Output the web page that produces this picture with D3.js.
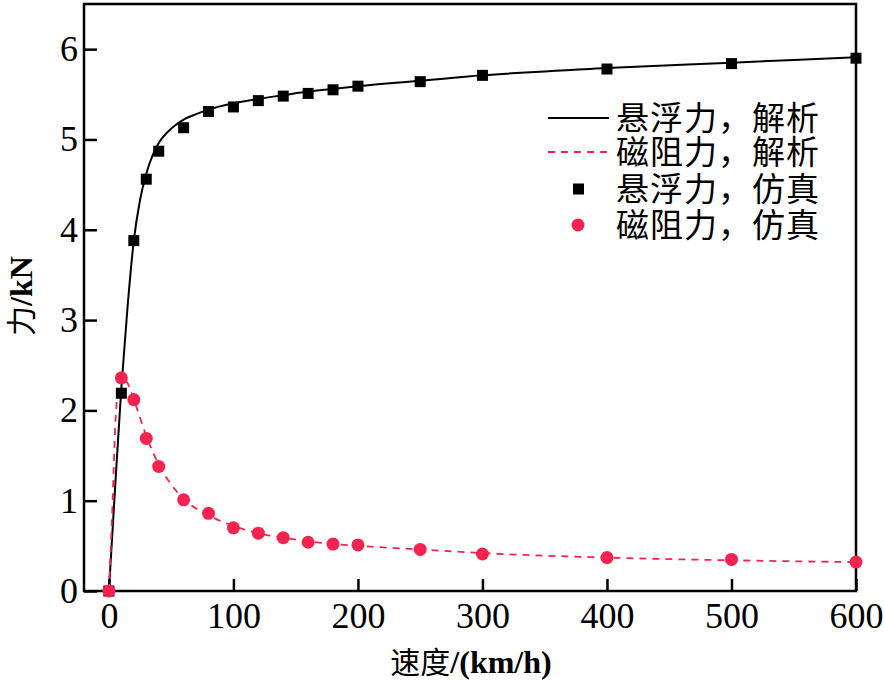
<html>
<head>
<meta charset="utf-8">
<script src="https://d3js.org/d3.v7.min.js"></script>
<style>
body { margin: 0; background: #fff; }
svg { display: block; }
text { font-family: "Liberation Serif", "DejaVu Serif", "Times New Roman", serif; fill: #000; }
.cjk { font-family: "Liberation Serif", "DejaVu Serif", "Noto Sans CJK SC", serif; }
</style>
</head>
<body>
<svg width="884" height="683"></svg>
<script>

// analytic curves
var liftLineX = [0, 5, 10, 15, 20, 25, 30, 35, 40, 50, 60, 70, 80, 100, 120, 140, 160, 180, 200, 250, 300, 400, 500, 600];
var liftLineY = [0, 1.15, 2.25, 3.15, 3.88, 4.33, 4.62, 4.82, 4.96, 5.12, 5.22, 5.28, 5.33, 5.40, 5.45, 5.49, 5.53, 5.56, 5.59, 5.65, 5.71, 5.79, 5.85, 5.91];
var dragLineX = [0, 3, 5, 7, 10, 15, 20, 30, 40, 50, 60, 80, 100, 120, 140, 160, 180, 200, 250, 300, 400, 500, 600];
var dragLineY = [0, 1.0, 1.8, 2.2, 2.37, 2.3, 2.12, 1.72, 1.40, 1.18, 1.02, 0.84, 0.72, 0.64, 0.59, 0.55, 0.52, 0.50, 0.46, 0.42, 0.37, 0.34, 0.32];

// simulation points
var simX = [0, 10, 20, 30, 40, 60, 80, 100, 120, 140, 160, 180, 200, 250, 300, 400, 500, 600];
var liftSim = [0, 2.19, 3.88, 4.56, 4.87, 5.13, 5.31, 5.36, 5.43, 5.48, 5.51, 5.55, 5.59, 5.64, 5.71, 5.78, 5.84, 5.90];
var dragSim = [0, 2.36, 2.12, 1.69, 1.38, 1.01, 0.86, 0.70, 0.64, 0.59, 0.54, 0.52, 0.51, 0.46, 0.41, 0.37, 0.35, 0.32];

var xTicks = [0, 100, 200, 300, 400, 500, 600];
var yTicks = [0, 1, 2, 3, 4, 5, 6];
var legendLabels = ["悬浮力，解析", "磁阻力，解析", "悬浮力，仿真", "磁阻力，仿真"];

var red = "#f5234f";
var serif = "'Liberation Serif', 'DejaVu Serif', serif";

var svg = d3.select("svg"),
    margin = {top: 4, right: 28, bottom: 92, left: 84},
    width = 884 - margin.left - margin.right,
    height = 683 - margin.top - margin.bottom;

var x = d3.scaleLinear().domain([-20, 600]).range([margin.left, margin.left + width]);
var y = d3.scaleLinear().domain([0, 6.5]).range([margin.top + height, margin.top]);

var g = svg.append("g");

// frame
g.append("rect")
    .attr("x", x(-20)).attr("y", y(6.5))
    .attr("width", width).attr("height", height)
    .attr("fill", "none").attr("stroke", "#000").attr("stroke-width", 2.5);

// axes with inward ticks
var xAxis = g.append("g")
    .attr("transform", "translate(0," + y(0) + ")")
    .call(d3.axisBottom(x).tickValues(xTicks).tickFormat(d3.format("d")).tickSize(-12).tickPadding(11).tickSizeOuter(0));
var yAxis = g.append("g")
    .attr("transform", "translate(" + x(-20) + ",0)")
    .call(d3.axisLeft(y).tickValues(yTicks).tickFormat(d3.format("d")).tickSize(-13).tickPadding(6).tickSizeOuter(0));

[xAxis, yAxis].forEach(function(a) {
    a.attr("font-family", serif);
    a.select(".domain").remove();
    a.selectAll(".tick line").attr("stroke", "#000").attr("stroke-width", 2.5);
    a.selectAll(".tick text").style("font-size", "36px").style("font-family", serif).attr("fill", "#000");
});

// lines
var liftLine = liftLineX.map((d, i) => [d, liftLineY[i]]);
var dragLine = dragLineX.map((d, i) => [d, dragLineY[i]]);
var line = d3.line().x(d => x(d[0])).y(d => y(d[1])).curve(d3.curveMonotoneX);

g.append("path").datum(liftLine).attr("d", line)
    .attr("fill", "none").attr("stroke", "#000").attr("stroke-width", 2);
g.append("path").datum(dragLine).attr("d", line)
    .attr("fill", "none").attr("stroke", red).attr("stroke-width", 1.8)
    .attr("stroke-dasharray", "7,6");

// markers
g.selectAll(".lift").data(simX).enter().append("rect")
    .attr("class", "lift")
    .attr("x", (d, i) => x(d) - 5.5).attr("y", (d, i) => y(liftSim[i]) - 5.5)
    .attr("width", 11).attr("height", 11).attr("fill", "#000");
g.selectAll(".drag").data(simX).enter().append("circle")
    .attr("class", "drag")
    .attr("cx", d => x(d)).attr("cy", (d, i) => y(dragSim[i]))
    .attr("r", 6.5).attr("fill", red);

// legend
var lg = svg.append("g");
var rowY = [118, 152, 189, 225];
lg.append("line").attr("x1", 548).attr("x2", 609).attr("y1", rowY[0]).attr("y2", rowY[0])
    .attr("stroke", "#000").attr("stroke-width", 2);
lg.append("line").attr("x1", 548).attr("x2", 609).attr("y1", rowY[1]).attr("y2", rowY[1])
    .attr("stroke", red).attr("stroke-width", 1.8).attr("stroke-dasharray", "7,6");
lg.append("rect").attr("x", 573).attr("y", rowY[2] - 5.5).attr("width", 11).attr("height", 11).attr("fill", "#000");
lg.append("circle").attr("cx", 578).attr("cy", rowY[3]).attr("r", 6.5).attr("fill", red);
lg.selectAll(".lt").data(legendLabels).enter().append("text")
    .attr("class", "cjk")
    .attr("x", 616).attr("y", (d, i) => rowY[i])
    .attr("dy", "0.36em")
    .style("font-size", "33px")
    .style("letter-spacing", "1px")
    .text(d => d);

// axis titles: Chinese regular, Latin part bold
var xt = svg.append("text").attr("class", "cjk")
    .attr("x", 471).attr("y", 673)
    .attr("text-anchor", "middle")
    .style("font-size", "30px");
xt.append("tspan").text("速度");
xt.append("tspan").style("font-weight", "bold").style("font-size", "32px").text("/(km/h)");

var yt = svg.append("text").attr("class", "cjk")
    .attr("transform", "translate(32,296) rotate(-90)")
    .attr("text-anchor", "middle")
    .style("font-size", "30px");
yt.append("tspan").text("力");
yt.append("tspan").style("font-weight", "bold").style("font-size", "32px").text("/kN");

</script>
</body>
</html>
